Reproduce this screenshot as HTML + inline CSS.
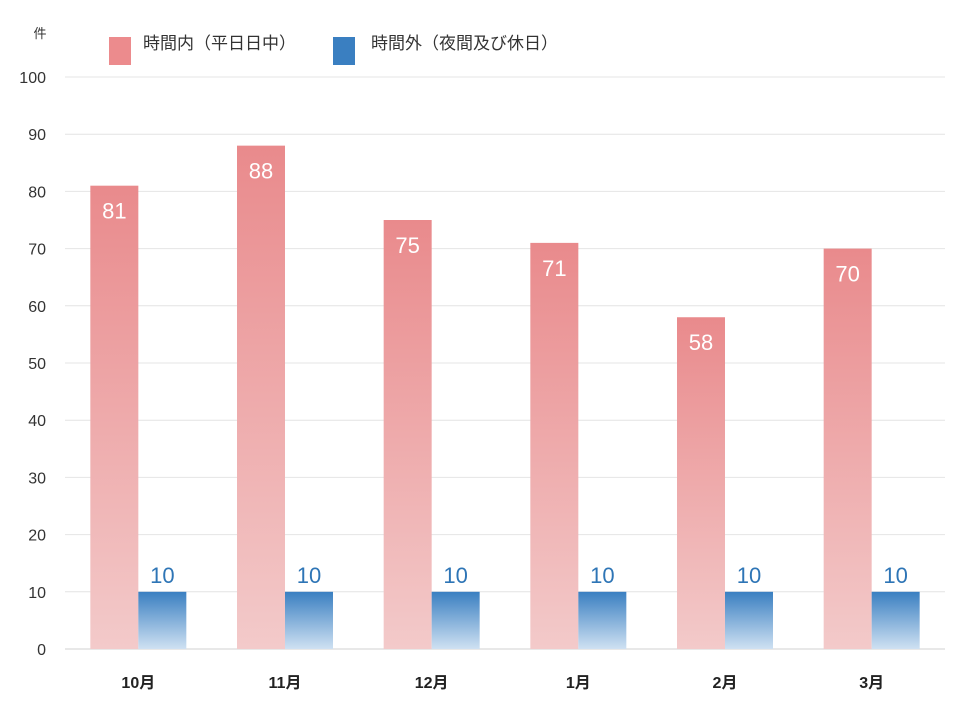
<!DOCTYPE html>
<html><head><meta charset="utf-8"><style>
body{margin:0;background:#fff;font-family:"Liberation Sans","Noto Sans CJK JP",sans-serif;}
</style></head><body>
<svg id="chart" width="960" height="720" xmlns="http://www.w3.org/2000/svg" style="display:block">
<defs>
<linearGradient id="gp" x1="0" y1="0" x2="0" y2="1"><stop offset="0" stop-color="#e98a8c"/><stop offset="1" stop-color="#f3caca"/></linearGradient>
<linearGradient id="gb" x1="0" y1="0" x2="0" y2="1"><stop offset="0" stop-color="#3a7fc1"/><stop offset="1" stop-color="#cfe1f2"/></linearGradient>
</defs>
<g id="grid"></g>
<g id="bars"></g>
<text x="40" y="38" font-size="13" fill="#333" text-anchor="middle">件</text>
<g>
<rect x="109" y="37" width="22" height="28" fill="#ec8b8d"/>
<text x="143" y="49" font-size="17" fill="#333">時間内（平日日中）</text>
<rect x="333" y="37" width="22" height="28" fill="#3a7fc1"/>
<text x="371" y="49" font-size="17" fill="#333">時間外（夜間及び休日）</text>
</g>
</svg>
<script>
const categories=["10月","11月","12月","1月","2月","3月"];
const inHours=[81,88,75,71,58,70];
const afterHours=[10,10,10,10,10,10];
const yTicks=[0,10,20,30,40,50,60,70,80,90,100];
const NS="http://www.w3.org/2000/svg";
const L=65,R=945,Y0=649,Y100=77;
const y=v=>Y0-(Y0-Y100)*v/100;
const band=(R-L)/categories.length;
const cx=i=>L+band*(i+0.5);
const BW=48;
function mk(tag,attrs,parent,txt){const e=document.createElementNS(NS,tag);for(const k in attrs)e.setAttribute(k,attrs[k]);if(txt!==undefined)e.textContent=txt;parent.appendChild(e);return e;}
const grid=document.getElementById('grid'),bars=document.getElementById('bars'),svg=document.getElementById('chart');
yTicks.forEach(t=>{
 const l=mk('line',{x1:L,x2:R,y1:y(t),y2:y(t),stroke:t===0?'#d0d0d0':'#e4e4e4','stroke-width':1},grid);
 
 
 const tx=mk('text',{x:46,y:y(t)+6,'font-size':16,fill:'#333','text-anchor':'end'},grid,String(t));
 
 
});
categories.forEach((c,i)=>{
 const x=cx(i);
 const p=mk('rect',{x:x-BW,y:y(inHours[i]),width:BW,height:Y0-y(inHours[i]),fill:'url(#gp)'},bars);
 
 
 const b=mk('rect',{x:x,y:y(afterHours[i]),width:BW,height:Y0-y(afterHours[i]),fill:'url(#gb)'},bars);
 
 
 const pl=mk('text',{x:x-BW/2,y:y(inHours[i])+33,'font-size':22,fill:'#fff','text-anchor':'middle'},bars,String(inHours[i]));
 
 
 const bl=mk('text',{x:x+BW/2,y:y(afterHours[i])-9,'font-size':22,fill:'#2e75b6','text-anchor':'middle'},bars,String(afterHours[i]));
 
 
 const xl=mk('text',{x:x,y:688,'font-size':16,'font-weight':'bold',fill:'#222','text-anchor':'middle'},svg,c);
 
 
});
</script>
</body></html>
